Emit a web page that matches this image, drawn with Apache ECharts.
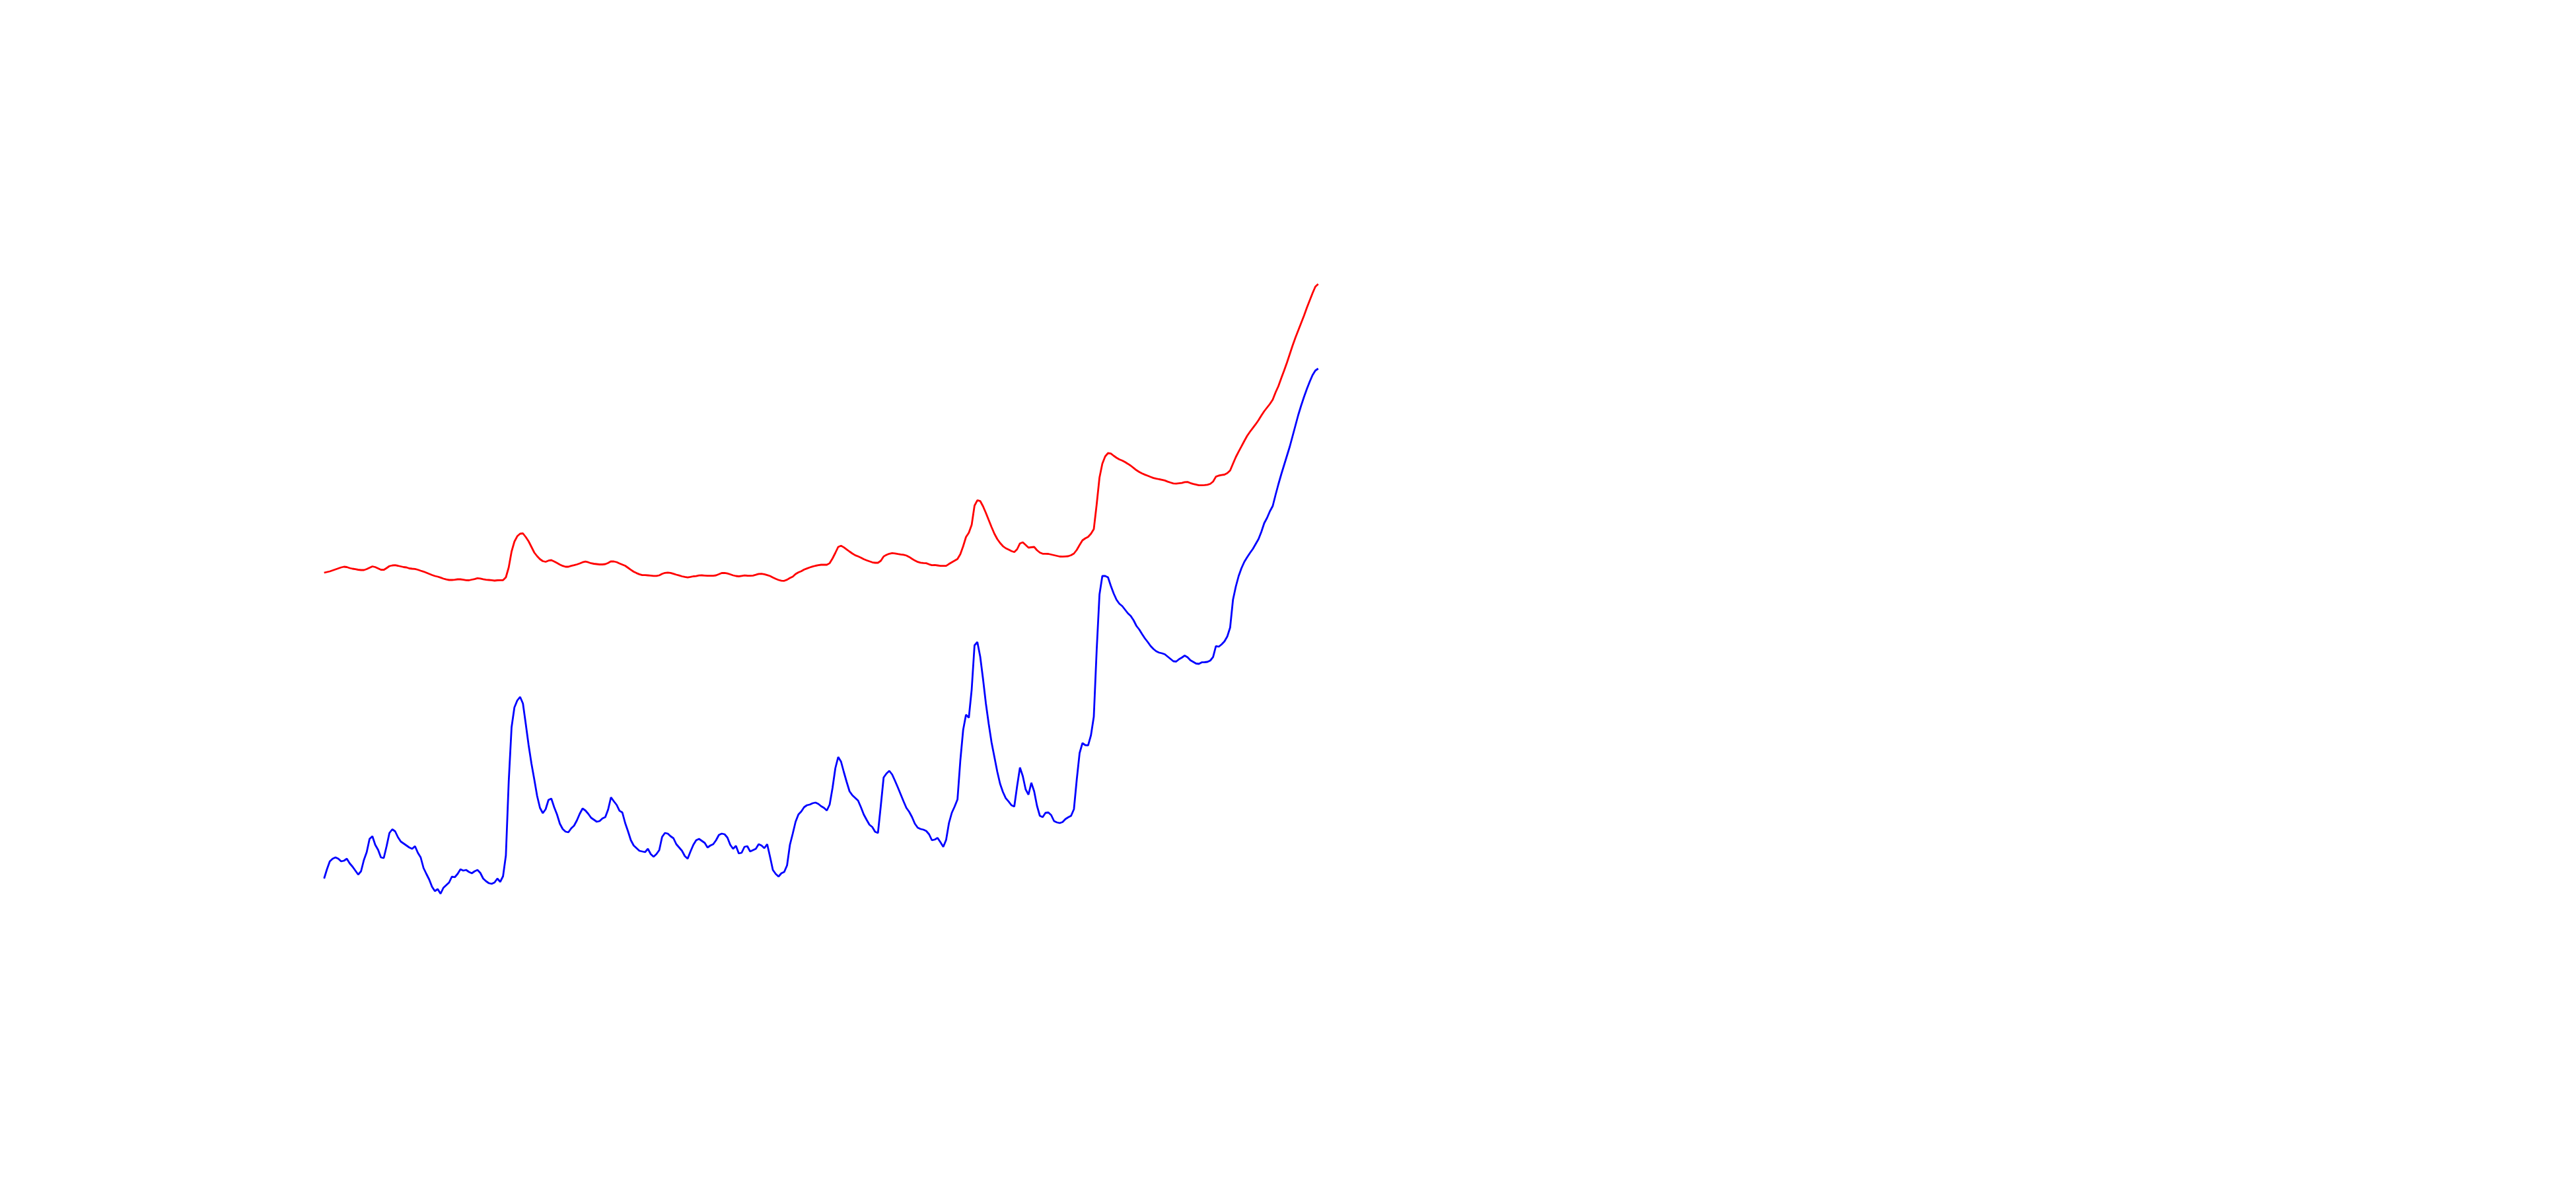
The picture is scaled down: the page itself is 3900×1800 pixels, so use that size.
<!DOCTYPE html>
<html>
<head>
<meta charset="utf-8">
<script src="https://cdn.jsdelivr.net/npm/echarts@6/dist/echarts.min.js"></script>
<style>
html,body{margin:0;padding:0;background:#fff;}
#chart{width:3900px;height:1800px;}
</style>
</head>
<body>
<div id="chart"></div>
<script>
// Blue series values (one per period)
const blueSeries = [
7.0,8.4,9.6,10.0,10.2,10.0,9.6,9.7,10.0,9.3,
8.8,8.2,7.6,8.1,9.8,11.0,13.0,13.4,12.1,11.35,
10.2,10.1,11.9,13.9,14.45,14.15,13.25,12.6,12.3,12.0,
11.7,11.5,11.9,10.9,10.2,8.6,7.7,6.85,5.75,5.1,
5.4,4.7,5.6,6.0,6.4,7.3,7.2,7.7,8.4,8.2,
8.3,8.0,7.8,8.1,8.3,7.85,7.0,6.6,6.3,6.2,
6.4,7.0,6.5,7.35,10.5,21.7,29.9,32.9,33.95,34.5,
33.5,30.4,27.2,24.4,22.0,19.5,17.7,16.9,17.5,18.9,
19.1,17.8,16.7,15.3,14.5,14.1,14.0,14.6,15.0,15.8,
16.8,17.6,17.3,16.8,16.2,15.9,15.6,15.7,16.1,16.3,
17.45,19.3,18.7,18.15,17.26,17.0,15.4,14.15,12.8,12.0,
11.6,11.2,11.1,11.0,11.5,10.7,10.3,10.7,11.3,13.3,
13.9,13.8,13.4,13.1,12.2,11.7,11.2,10.4,10.0,11.1,
12.1,12.8,13.0,12.7,12.4,11.7,12.0,12.2,12.8,13.6,
13.8,13.7,13.2,12.1,11.5,11.95,10.8,10.9,11.8,11.9,
11.1,11.3,11.5,12.2,12.0,11.6,12.2,10.3,8.3,7.7,
7.3,7.8,8.0,9.0,12.1,13.8,15.6,16.7,17.15,17.8,
18.1,18.2,18.4,18.5,18.3,17.95,17.7,17.3,18.2,20.7,
23.7,25.4,24.7,23.1,21.6,20.2,19.6,19.2,18.8,17.8,
16.7,15.9,15.15,14.8,14.07,13.9,18.0,22.3,22.9,23.3,
22.75,21.8,20.8,19.75,18.7,17.7,17.1,16.3,15.3,14.7,
14.5,14.4,14.2,13.7,12.8,12.9,13.15,12.5,11.8,12.85,
15.4,16.95,17.9,18.97,24.85,29.5,31.8,31.35,35.6,42.3,
42.8,40.6,37.2,33.5,30.4,27.6,25.4,23.2,21.35,20.1,
19.16,18.67,18.1,17.9,21.0,23.8,22.5,20.5,19.7,21.5,
20.2,18.0,16.5,16.3,16.95,17.0,16.6,15.7,15.5,15.4,
15.55,16.0,16.27,16.5,17.5,22.0,26.0,27.5,27.2,27.17,
28.7,31.5,41.5,50.0,52.8,52.8,52.6,51.3,50.15,49.2,
48.6,48.25,47.7,47.15,46.75,46.1,45.25,44.7,44.0,43.35,
42.8,42.2,41.75,41.4,41.2,41.1,40.95,40.6,40.25,39.9,
39.85,40.2,40.45,40.75,40.5,40.05,39.8,39.55,39.5,39.73,
39.75,39.8,40.0,40.53,42.2,42.1,42.45,42.9,43.65,45.0,
49.2,51.2,52.8,54.0,54.95,55.65,56.3,56.9,57.65,58.4,
59.5,60.8,61.6,62.6,63.4,65.1,66.7,68.2,69.6,71.0,
72.4,74.0,75.6,77.2,78.6,79.9,81.1,82.2,83.2,83.9,
84.2
];
// Red series values (one per period)
const redSeries = [
53.3,53.4,53.5,53.65,53.8,53.95,54.1,54.2,54.15,54.0,
53.9,53.83,53.75,53.7,53.7,53.85,54.05,54.25,54.15,53.95,
53.75,53.73,54.0,54.3,54.4,54.43,54.35,54.25,54.15,54.1,
53.95,53.9,53.87,53.75,53.6,53.47,53.3,53.12,52.95,52.8,
52.7,52.56,52.4,52.28,52.2,52.2,52.23,52.3,52.3,52.24,
52.17,52.15,52.25,52.34,52.46,52.42,52.32,52.23,52.2,52.16,
52.1,52.15,52.17,52.17,52.6,54.1,56.5,58.0,58.82,59.2,
59.25,58.7,58.05,57.2,56.35,55.8,55.35,55.05,54.95,55.13,
55.2,55.0,54.77,54.53,54.33,54.2,54.2,54.33,54.43,54.55,
54.7,54.88,54.98,54.88,54.73,54.65,54.6,54.55,54.55,54.6,
54.78,55.02,55.0,54.9,54.7,54.53,54.35,54.05,53.74,53.45,
53.24,53.06,52.93,52.93,52.9,52.87,52.82,52.81,52.9,53.12,
53.27,53.31,53.27,53.14,53.0,52.88,52.75,52.66,52.58,52.66,
52.75,52.79,52.89,52.9,52.87,52.84,52.83,52.83,52.9,53.07,
53.25,53.27,53.18,53.05,52.9,52.8,52.75,52.82,52.89,52.85,
52.84,52.87,52.98,53.12,53.13,53.06,52.94,52.8,52.57,52.37,
52.2,52.08,52.07,52.24,52.5,52.7,53.1,53.35,53.52,53.77,
53.94,54.1,54.24,54.35,54.43,54.5,54.5,54.5,54.74,55.45,
56.3,57.2,57.38,57.14,56.82,56.5,56.2,55.94,55.77,55.58,
55.35,55.18,55.02,54.87,54.8,54.8,55.1,55.76,56.0,56.17,
56.26,56.22,56.14,56.07,56.02,55.9,55.68,55.4,55.14,54.93,
54.82,54.76,54.74,54.57,54.44,54.46,54.4,54.33,54.33,54.33,
54.62,54.88,55.12,55.37,56.1,57.3,58.7,59.35,60.55,63.45,
64.27,64.15,63.35,62.35,61.27,60.2,59.2,58.4,57.8,57.32,
57.0,56.8,56.58,56.43,56.85,57.73,57.9,57.5,57.1,57.15,
57.2,56.7,56.35,56.17,56.17,56.15,56.05,55.95,55.85,55.75,
55.74,55.77,55.8,55.95,56.2,56.75,57.5,58.2,58.5,58.73,
59.2,59.9,63.6,67.7,69.8,70.9,71.4,71.33,71.0,70.7,
70.45,70.28,70.05,69.78,69.5,69.17,68.82,68.55,68.32,68.14,
67.97,67.8,67.64,67.54,67.45,67.37,67.26,67.09,66.95,66.82,
66.79,66.84,66.89,67.02,67.04,66.87,66.74,66.64,66.54,66.53,
66.57,66.62,66.75,67.1,67.84,68.0,68.08,68.15,68.37,68.77,
69.8,70.8,71.63,72.43,73.25,74.02,74.65,75.22,75.78,76.4,
77.1,77.75,78.3,78.85,79.5,80.6,81.55,82.75,83.9,85.1,
86.4,87.7,88.9,90.0,91.1,92.2,93.4,94.5,95.6,96.6,
97.0
];
// Period labels (hidden axis)
const periods = blueSeries.map((_, i) => 'P' + (i + 1));

const chart = echarts.init(document.getElementById('chart'), null, {renderer: 'canvas'});
const step = 4.3;
chart.setOption({
  animation: false,
  backgroundColor: '#ffffff',
  grid: {left: 490.7, top: 400, width: step * (periods.length - 1), height: 1000},
  xAxis: {type: 'category', data: periods, boundaryGap: false, show: false},
  yAxis: {type: 'value', min: 0, max: 100, show: false},
  series: [
    {type: 'line', data: redSeries, showSymbol: false, symbol: 'none', lineStyle: {color: '#ff0000', width: 2.8}, itemStyle: {color: '#ff0000'}},
    {type: 'line', data: blueSeries, showSymbol: false, symbol: 'none', lineStyle: {color: '#0000ff', width: 2.8}, itemStyle: {color: '#0000ff'}}
  ]
});
</script>
</body>
</html>
